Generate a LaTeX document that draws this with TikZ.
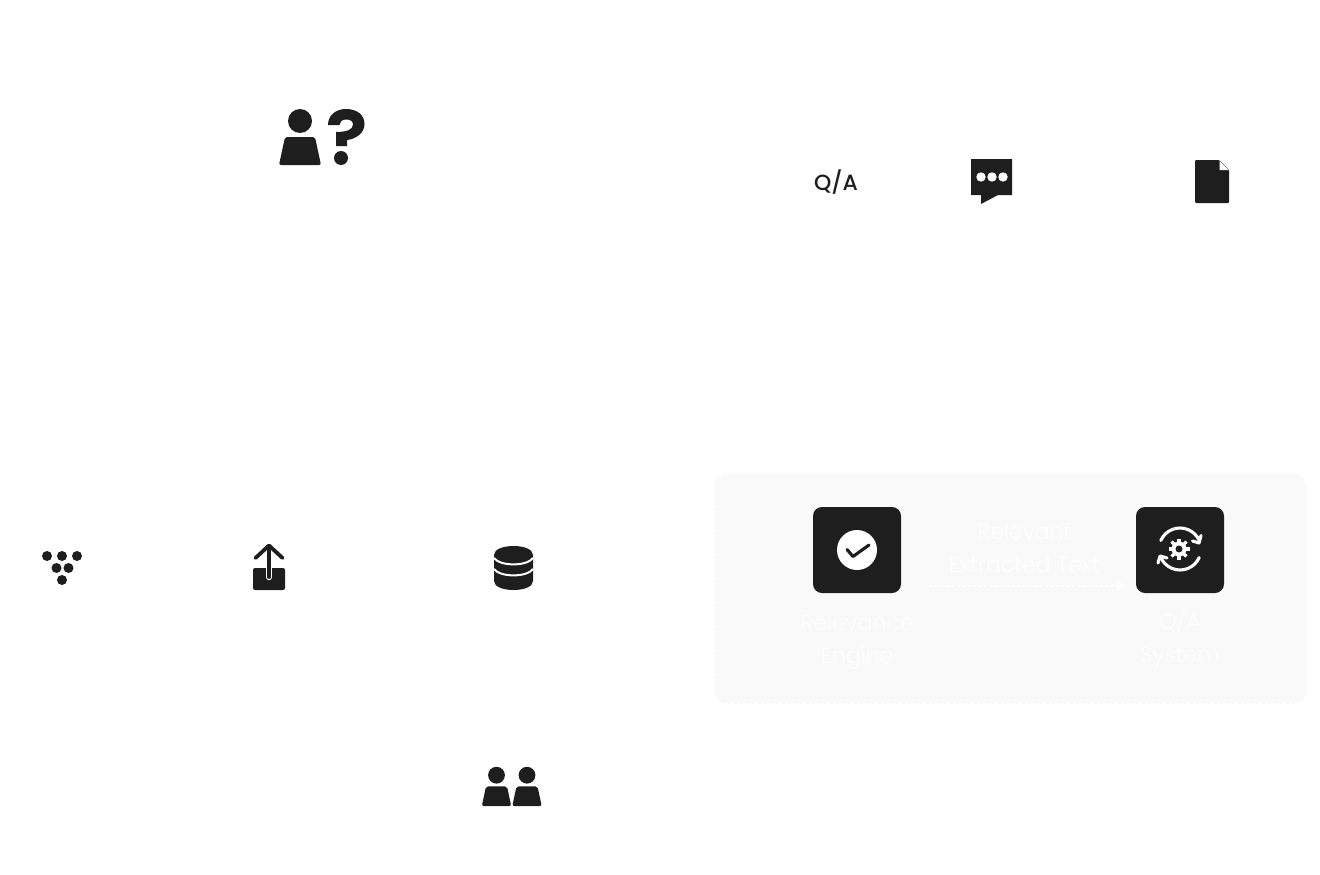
\documentclass[tikz,border=0pt]{standalone}
\usepackage{fontspec}
\setmainfont{Poppins}[UprightFont=* Medium]
\newfontfamily\lightfont{Poppins}[UprightFont=* Light]
\usetikzlibrary{arrows.meta}
\definecolor{icondark}{HTML}{1E1E1E}
\definecolor{panelgray}{HTML}{F9F9F9}
\tikzset{
  iconbox/.style={fill=icondark, rounded corners=9pt, minimum width=88pt, minimum height=86pt, inner sep=0pt},
  boxlabel/.style={text=white, font=\lightfont\fontsize{22}{33}\selectfont, align=center, inner sep=0pt},
  iconline/.style={line width=3.1pt, line cap=round, line join=round},
  person/.pic={
    \fill[icondark] (0,-44) circle (12pt);
    \fill[icondark, rounded corners=2pt]
      (-21,0) -- (-15,-28) -- (15,-28) -- (21,0) -- cycle;
  }
}
\begin{document}
\begin{tikzpicture}[x=1pt, y=-1pt]
    \useasboundingbox (0,0) rectangle (1320,875);
    \fill[white] (0,0) rectangle (1320,875);

    % Asking user
    \pic at (300,165) {person};
    \fill[icondark]
      (328,125) .. controls (328,115) and (336,109) .. (346,109)
      .. controls (357,109) and (364.5,115) .. (364.5,124)
      .. controls (364.5,133) and (356,139) .. (347,140)
      -- (347,146) -- (336,146) -- (336,132)
      .. controls (346,132) and (353,130) .. (353,124.5)
      .. controls (353,121) and (350,119.5) .. (346,119.5)
      .. controls (342,119.5) and (339.5,122) .. (339.5,125) -- cycle;
    \fill[icondark] (341,158) circle (7pt);

    % Top row
    \node[text=icondark, font=\fontsize{22}{26}\selectfont, inner sep=0pt] (qalabel) at (836,182) {Q/A};
    \fill[icondark]
      (971,159) -- (1012,159) -- (1012,195) -- (998,195) -- (981,204) -- (981,195) -- (971,195) -- cycle;
    \foreach \x in {981,992,1003}
      \fill[white] (\x,177) circle (4.7pt);
    \fill[icondark, rounded corners=1pt]
      (1195,160) -- (1219,160) -- (1229,170) -- (1229,203) -- (1195,203) -- cycle;
    \fill[white] (1219.5,161) -- (1228.5,170) -- (1219.5,170) -- cycle;

    % Dots
    \foreach \x/\y in {47/556, 62/556, 77/556, 56.5/568, 68.5/568, 62/580}
      \fill[icondark] (\x,\y) circle (5pt);

    % Upload
    \fill[icondark, rounded corners=2pt] (253,568) rectangle (285,590);
    \draw[white, line width=6.5pt, line cap=round] (269,560) -- (269,577);
    \draw[icondark, iconline, line width=3.8pt] (255.5,558) -- (269,545.5) -- (282.5,558);
    \draw[icondark, line width=3.8pt, line cap=round] (269,546) -- (269,577);

    % Database
    \fill[icondark]
      (494,555) .. controls (494,543) and (533,543) .. (533,555)
      -- (533,581) .. controls (533,593) and (494,593) .. (494,581) -- cycle;
    \draw[white, line width=2pt]
      (494,558) .. controls (500,566.5) and (527,566.5) .. (533,558);
    \draw[white, line width=2pt]
      (494,569) .. controls (500,577.5) and (527,577.5) .. (533,569);

    % Users
    \pic[scale=0.7] at (496.5,806) {person};
    \pic[scale=0.7] at (527,806) {person};

    % Panel
    \fill[panelgray, rounded corners=14pt] (714,473) rectangle (1307,704);
    \draw[white, line width=2pt, dash pattern=on 3pt off 3pt, rounded corners=14pt] (714,473) rectangle (1307,704);

    \node[iconbox] (relbox) at (857,550) {};
    \node[iconbox] (qabox) at (1180,550) {};

    % Check mark
    \fill[white] (relbox.center) circle (20pt);
    \draw[icondark, iconline] (847,549.5) -- (853,556.5) -- (869,545);

    % Gear and arrows
    \fill[white] (1179,549) circle (7.5pt);
    \foreach \a in {0,45,...,315}
      \draw[white, line width=3.2pt] (1179,549) ++(\a:5pt) -- ++(\a:5.5pt);
    \fill[icondark] (1179,549) circle (3.5pt);
    \draw[white, iconline] (1180,549) ++(156:21pt) arc[start angle=156, end angle=22, radius=21pt];
    \draw[white, iconline] (1201,535.5) -- (1199,543) -- (1192.5,541);
    \draw[white, iconline] (1180,549) ++(-24:21pt) arc[start angle=-24, end angle=-158, radius=21pt];
    \draw[white, iconline] (1158,563) -- (1160,556) -- (1167,558);

    % Labels
    \node[boxlabel] (rellabel) at (857,641.5) {Relevance\\Engine};
    \node[boxlabel] (qasyslabel) at (1180,638.5) {Q/A\\System};
    \node[boxlabel] (flowlabel) at (1024.5,547.5) {Relevant\\Extracted Text};

    % Flow
    \coordinate (flowstart) at (929,586);
    \coordinate (flowend) at (1126,586);
    \draw[white, line width=2pt, dash pattern=on 3pt off 2.5pt, -{Triangle[length=9pt, width=10pt]}]
      (flowstart) -- (flowend);
\end{tikzpicture}
\end{document}
